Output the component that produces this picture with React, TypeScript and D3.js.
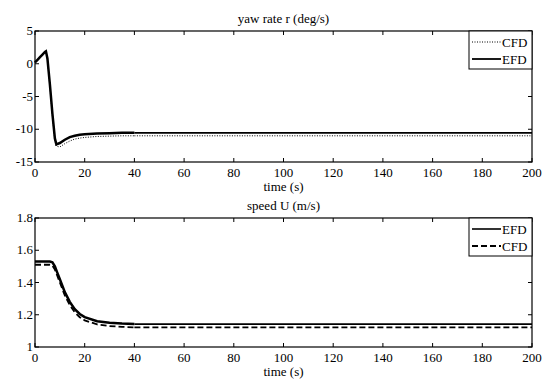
import React, { useRef, useEffect } from 'react';
import * as d3 from 'd3';

// yaw rate panel
const yawTime = [0, 1, 2, 3, 4, 4.4, 5, 6, 7, 8, 8.6, 10, 12, 14, 16, 18, 20, 25, 30, 35, 40];
const yawEFD = [0.2, 0.6, 1.0, 1.4, 1.8, 1.9, 0.8, -3.2, -7.6, -11.4, -12.3, -12.1, -11.6, -11.2, -11.0, -10.85, -10.75, -10.65, -10.6, -10.55, -10.55];
const yawCFD = [0.2, 0.6, 1.0, 1.4, 1.8, 1.9, 0.6, -3.6, -8.0, -11.8, -12.6, -12.7, -12.2, -11.8, -11.5, -11.35, -11.25, -11.1, -11.05, -11.0, -11.0];
const yawTailTime = [40, 200];
const yawTailEFD = [-10.55, -10.55];
const yawTailCFD = [-11.0, -11.0];

// speed panel
const speedTime = [0, 2, 4, 6, 7, 8, 9, 10, 12, 14, 16, 18, 20, 25, 30, 35, 40];
const speedEFD = [1.53, 1.53, 1.53, 1.53, 1.525, 1.5, 1.46, 1.42, 1.34, 1.28, 1.235, 1.205, 1.185, 1.16, 1.15, 1.145, 1.142];
const speedCFD = [1.51, 1.51, 1.51, 1.51, 1.505, 1.48, 1.44, 1.4, 1.32, 1.26, 1.215, 1.185, 1.165, 1.14, 1.13, 1.125, 1.122];
const speedTailTime = [40, 200];
const speedTailEFD = [1.142, 1.142];
const speedTailCFD = [1.122, 1.122];

const xTicks = [0, 20, 40, 60, 80, 100, 120, 140, 160, 180, 200];
const yawTicks = [-15, -10, -5, 0, 5];
const speedTicks = [1, 1.2, 1.4, 1.6, 1.8];

const App = () => {
    const svgRef = useRef();

    useEffect(() => {
        const svg = d3.select(svgRef.current);
        svg.selectAll("*").remove();

        const left = 35, right = 532;

        const label = (g, x, y, anchor, txt) =>
            g.append("text").attr("x", x).attr("y", y)
                .attr("text-anchor", anchor)
                .style("font-family", "Liberation Serif, Times New Roman, serif")
                .style("font-size", "13px")
                .text(txt);

        const drawPanel = (opts) => {
            const { top, bottom, yDomain, yTicks, yFmt, title, series, legend } = opts;
            const x = d3.scaleLinear().domain([0, 200]).range([left, right]);
            const y = d3.scaleLinear().domain(yDomain).range([bottom, top]);
            const g = svg.append("g");

            g.append("rect")
                .attr("x", left).attr("y", top)
                .attr("width", right - left).attr("height", bottom - top)
                .attr("fill", "white").attr("stroke", "black").attr("stroke-width", 1.2);

            // ticks (inside, on all four sides)
            xTicks.forEach(t => {
                g.append("line").attr("x1", x(t)).attr("x2", x(t)).attr("y1", bottom).attr("y2", bottom - 4).attr("stroke", "black");
                g.append("line").attr("x1", x(t)).attr("x2", x(t)).attr("y1", top).attr("y2", top + 4).attr("stroke", "black");
                label(g, x(t), bottom + 15, "middle", t);
            });
            yTicks.forEach(v => {
                g.append("line").attr("x1", left).attr("x2", left + 4).attr("y1", y(v)).attr("y2", y(v)).attr("stroke", "black");
                g.append("line").attr("x1", right).attr("x2", right - 4).attr("y1", y(v)).attr("y2", y(v)).attr("stroke", "black");
                label(g, left - 2, y(v) + 4, "end", yFmt(v));
            });

            label(g, (left + right) / 2, top - 8, "middle", title);
            label(g, (left + right) / 2, bottom + 29, "middle", "time (s)");

            const line = d3.line().x(d => x(d[0])).y(d => y(d[1]));
            series.forEach(s => {
                g.append("path")
                    .datum(d3.zip(s.t, s.v))
                    .attr("fill", "none")
                    .attr("stroke", "black")
                    .attr("stroke-width", s.width)
                    .attr("stroke-dasharray", s.dash || null)
                    .attr("d", line);
            });

            // legend
            const lx = 469, lw = right - lx, lh = 38;
            g.append("rect").attr("x", lx).attr("y", top).attr("width", lw).attr("height", lh)
                .attr("fill", "white").attr("stroke", "black").attr("stroke-width", 1);
            legend.forEach((item, i) => {
                const ly = top + 11 + i * 17;
                g.append("line").attr("x1", lx + 3).attr("x2", lx + 32).attr("y1", ly).attr("y2", ly)
                    .attr("stroke", "black").attr("stroke-width", item.width)
                    .attr("stroke-dasharray", item.dash || null);
                label(g, lx + 33, ly + 4.5, "start", item.label);
            });
        };

        drawPanel({
            top: 31, bottom: 162,
            yDomain: [-15, 5], yTicks: yawTicks, yFmt: d => d,
            title: "yaw rate r (deg/s)",
            series: [
                { t: yawTime, v: yawCFD, width: 1, dash: "1,1.5" },
                { t: yawTailTime, v: yawTailCFD, width: 1, dash: "1,1.5" },
                { t: yawTime, v: yawEFD, width: 2.5 },
                { t: yawTailTime, v: yawTailEFD, width: 1.6 },
            ],
            legend: [
                { label: "CFD", width: 1, dash: "1,1.5" },
                { label: "EFD", width: 1.8 },
            ],
        });

        drawPanel({
            top: 218, bottom: 347,
            yDomain: [1, 1.8], yTicks: speedTicks, yFmt: d => d3.format("")(+d.toFixed(1)),
            title: "speed U (m/s)",
            series: [
                { t: speedTime, v: speedCFD, width: 1.8, dash: "6,3" },
                { t: speedTailTime, v: speedTailCFD, width: 1.8, dash: "6,3" },
                { t: speedTime, v: speedEFD, width: 2.5 },
                { t: speedTailTime, v: speedTailEFD, width: 1.6 },
            ],
            legend: [
                { label: "EFD", width: 1.6 },
                { label: "CFD", width: 1.8, dash: "6,3" },
            ],
        });
    }, []);

    return (
        <svg ref={svgRef} width={545} height={381}
            style={{ position: "absolute", left: 0, top: 0, background: "white" }}></svg>
    );
};

export default App;
